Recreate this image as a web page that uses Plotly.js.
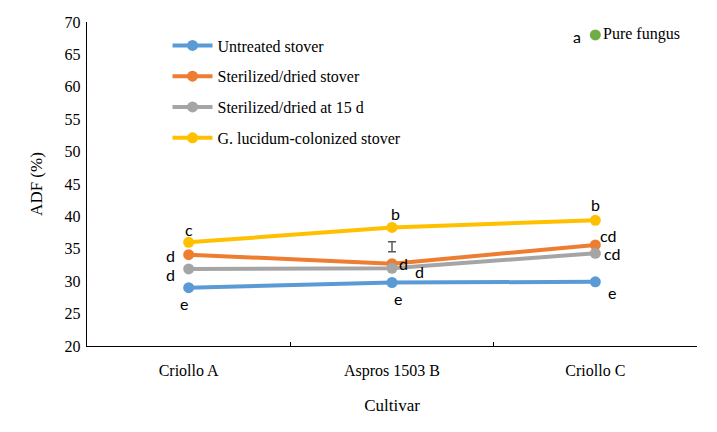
<!DOCTYPE html>
<html>
<head>
<meta charset="utf-8">
<script src="https://cdn.plot.ly/plotly-3.0.1.min.js"></script>
<style>html,body{margin:0;padding:0;background:#fff;}#chart{width:717px;height:432px;}</style>
</head>
<body>
<div id="chart"></div>
<script>
// ---- data ----
var categories = ['Criollo A', 'Aspros 1503 B', 'Criollo C'];
var seriesNames = ['Untreated stover', 'Sterilized/dried stover', 'Sterilized/dried at 15 d', 'G. lucidum-colonized stover'];
var untreated = [29.0, 29.8, 29.9];
var sterilized = [34.1, 32.7, 35.6];
var sterilized15 = [31.9, 32.0, 34.3];
var lucidum = [36.0, 38.3, 39.4];
var untreatedLetters = ['e', 'e', 'e'];
var sterilizedLetters = ['d', 'd', 'cd'];
var sterilized15Letters = ['d', 'd', 'cd'];
var lucidumLetters = ['c', 'b', 'b'];
var pureFungusName = 'Pure fungus';
var pureFungusCategory = ['Criollo C'];
var pureFungus = [68.0];
var pureFungusLetter = 'a';
var extraBarCategory = ['Aspros 1503 B'];
var extraBarValue = [35.3];
var extraBarError = [0.77];

// ---- styles ----
var colors = ['#5B9BD5', '#ED7D31', '#A5A5A5', '#FFC000'];
var serif = "'Liberation Serif'";
var sans = "Lato";
var allSeries = [untreated, sterilized, sterilized15, lucidum];
var allLetters = [untreatedLetters, sterilizedLetters, sterilized15Letters, lucidumLetters];
// pixel offsets of letters relative to their points [series][category] = [dx, dy(up)]
var letterOffsets = [
  [[-5, -16], [6, -16], [17, -11]],
  [[-18, -1], [11, 0], [13, 9]],
  [[-18, -6], [27, -3], [17, 0]],
  [[0, 13], [3, 14], [0, 16]]
];

var traces = [];
for (var i = 0; i < allSeries.length; i++) {
  traces.push({
    type: 'scatter', mode: 'lines+markers', name: seriesNames[i],
    x: categories, y: allSeries[i], legendgroup: 'g' + i,
    line: {color: colors[i], width: 4},
    marker: {color: colors[i], size: 11},
    hoverinfo: 'skip'
  });
}
traces.push({
  type: 'scatter', mode: 'markers', name: pureFungusName, showlegend: false,
  x: pureFungusCategory, y: pureFungus,
  marker: {color: '#70AD47', size: 11}, hoverinfo: 'skip'
});
traces.push({
  type: 'scatter', mode: 'markers', showlegend: false,
  x: extraBarCategory, y: extraBarValue,
  marker: {size: 1, opacity: 0},
  error_y: {type: 'data', array: extraBarError, visible: true, color: '#595959', thickness: 1.5, width: 4},
  hoverinfo: 'skip'
});

var annotations = [];
for (var s = 0; s < allSeries.length; s++) {
  for (var c = 0; c < categories.length; c++) {
    annotations.push({
      x: c, y: allSeries[s][c], xref: 'x', yref: 'y',
      text: allLetters[s][c], showarrow: false, borderpad: 0,
      xshift: letterOffsets[s][c][0], yshift: letterOffsets[s][c][1],
      font: {family: sans, size: 16, color: '#000'}
    });
  }
}
annotations.push({
  x: categories.indexOf(pureFungusCategory[0]), y: pureFungus[0], xref: 'x', yref: 'y',
  text: pureFungusLetter, showarrow: false, xshift: -18, yshift: -2,
  font: {family: sans, size: 16, color: '#000'}
});
annotations.push({
  x: categories.indexOf(pureFungusCategory[0]), y: pureFungus[0], xref: 'x', yref: 'y',
  text: pureFungusName, showarrow: false, xanchor: 'left', xshift: 6, yshift: 1,
  font: {family: serif, size: 16, color: '#000'}
});

var layout = {
  width: 717, height: 432,
  margin: {l: 87, r: 20, t: 22, b: 86},
  paper_bgcolor: '#fff', plot_bgcolor: '#fff',
  font: {family: serif, color: '#000'},
  showlegend: true,
  hovermode: false,
  legend: {
    x: 0.132, y: 0.98, xanchor: 'left', yanchor: 'top',
    bgcolor: 'rgba(0,0,0,0)', font: {family: serif, size: 16, color: '#000'},
    tracegroupgap: 7, itemwidth: 40
  },
  xaxis: {
    type: 'category', range: [-0.5, 2.5],
    showline: true, linecolor: '#000', linewidth: 1.3,
    ticks: 'inside', ticklen: 4, tickcolor: '#000', tickson: 'boundaries',
    showgrid: false, zeroline: false, ticklabelstandoff: 9,
    tickfont: {family: serif, size: 16, color: '#000'},
    title: {text: 'Cultivar', font: {family: serif, size: 17, color: '#000'}, standoff: 20}
  },
  yaxis: {
    range: [20, 70], dtick: 5, tick0: 20,
    showline: true, linecolor: '#000', linewidth: 1.3,
    ticks: '', showgrid: false, zeroline: false, ticklabelstandoff: 2,
    tickfont: {family: serif, size: 16, color: '#000'},
    title: {text: 'ADF (%)', font: {family: serif, size: 17, color: '#000'}, standoff: 17}
  },
  annotations: annotations
};

Plotly.newPlot('chart', traces, layout, {displayModeBar: false, staticPlot: true});
</script>
</body>
</html>
